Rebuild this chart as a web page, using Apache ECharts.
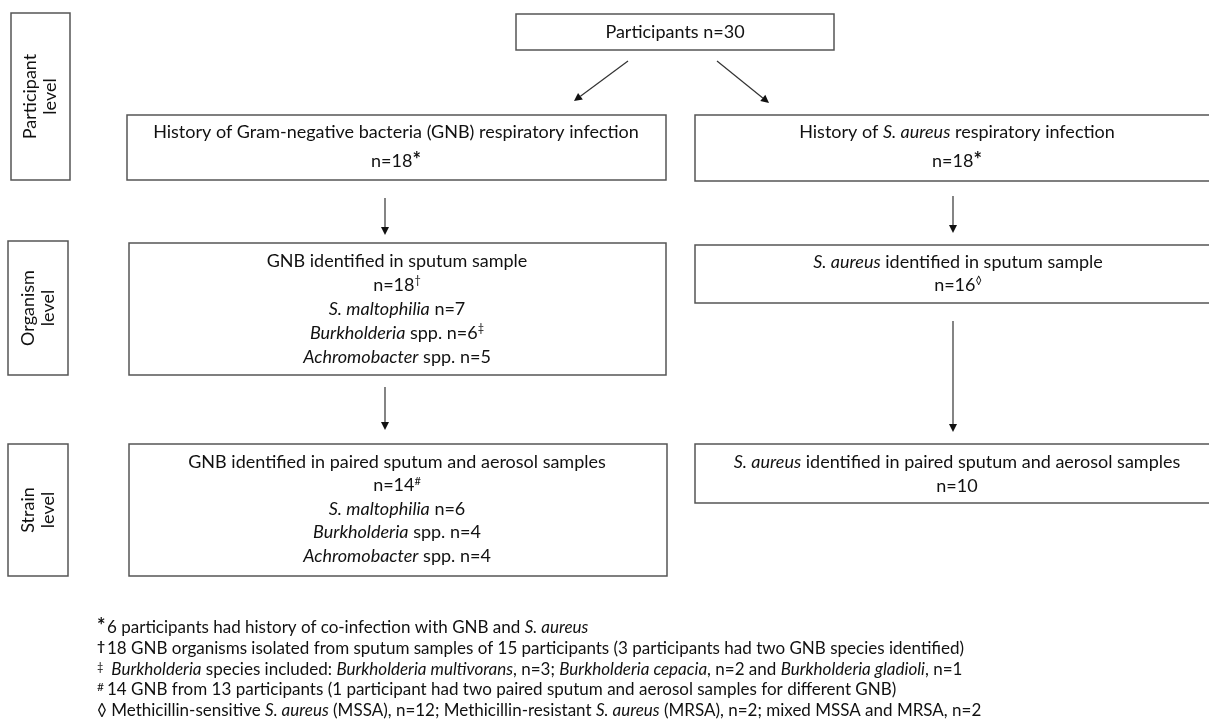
<!DOCTYPE html>
<html>
<head>
<meta charset="utf-8">
<script src="https://cdn.jsdelivr.net/npm/echarts@6/dist/echarts.min.js"></script>
<style>
  html, body { margin: 0; padding: 0; background: #fff; }
  #container { width: 1209px; height: 725px; }
</style>
</head>
<body>
<div id="container"></div>
<script>
// --- data ---
var levels = ['Participant\nlevel', 'Organism\nlevel', 'Strain\nlevel'];
var participantsN = 30;
var gnbTotals = [18, 18, 14];      // history, sputum, paired
var saTotals = [18, 16, 10];
var species = ['S. maltophilia', 'Burkholderia', 'Achromobacter'];
var speciesSuffix = ['', ' spp.', ' spp.'];
var speciesSputum = [7, 6, 5];
var speciesPaired = [6, 4, 4];
var footMarks = ['*', '\u2020', '\u2021', '#'];
var footnotes = [
  '6 participants had history of co-infection with GNB and {i|S. aureus}',
  '18 GNB organisms isolated from sputum samples of 15 participants (3 participants had two GNB species identified)',
  ' {i|Burkholderia} species included: {i|Burkholderia multivorans}, n=3; {i|Burkholderia cepacia}, n=2 and {i|Burkholderia gladioli}, n=1',
  '14 GNB from 13 participants (1 participant had two paired sputum and aerosol samples for different GNB)',
  '\u25CA Methicillin-sensitive {i|S. aureus} (MSSA), n=12; Methicillin-resistant {i|S. aureus} (MRSA), n=2; mixed MSSA and MRSA, n=2'
];

// --- text blocks built from the data ---
function speciesLines(counts, marks) {
  return species.map(function (s, i) {
    return '{i|' + s + '}' + speciesSuffix[i] + ' n=' + counts[i] + (marks[i] ? '{sup|' + marks[i] + '}' : '');
  });
}
var rootText = ['Participants n=' + participantsN];
var gnbHistory = ['History of Gram-negative bacteria (GNB) respiratory infection', 'n=' + gnbTotals[0] + '{star|*}'];
var saHistory = ['History of {i|S. aureus} respiratory infection', 'n=' + saTotals[0] + '{star|*}'];
var gnbSputum = ['GNB identified in sputum sample', 'n=' + gnbTotals[1] + '{sup|\u2020}']
  .concat(speciesLines(speciesSputum, ['', '\u2021', '']));
var saSputum = ['{i|S. aureus} identified in sputum sample', 'n=' + saTotals[1] + '{sup|\u25CA}'];
var gnbPaired = ['GNB identified in paired sputum and aerosol samples', 'n=' + gnbTotals[2] + '{sup|#}']
  .concat(speciesLines(speciesPaired, ['', '', '']));
var saPaired = ['{i|S. aureus} identified in paired sputum and aerosol samples', 'n=' + saTotals[2]];

// --- layout ---
var FONT = 'Lato, "Open Sans", sans-serif';
var INK = '#111';
var EDGE = '#555';
var BOX_FS = 18;
var FOOT_FS = 17;

function richStyles(size) {
  return {
    i: { fontStyle: 'italic', fontSize: size, fontFamily: FONT, fill: INK },
    sup: { fontSize: Math.round(size * 0.62), fontFamily: FONT, fill: INK, verticalAlign: 'top', lineHeight: size },
    star: { fontSize: size + 2, fontWeight: 'bold', fontFamily: FONT, fill: INK, verticalAlign: 'top', lineHeight: size }
  };
}

function textEl(str, x, y, size, align, extra) {
  var el = {
    type: 'text',
    x: x, y: y,
    style: {
      text: str,
      fontSize: size,
      fontFamily: FONT,
      fill: INK,
      align: align || 'center',
      verticalAlign: 'middle',
      lineHeight: size + 2,
      rich: richStyles(size)
    }
  };
  if (extra) Object.assign(el, extra);
  return el;
}

function box(x1, y1, x2, y2) {
  return {
    type: 'rect',
    shape: { x: x1, y: y1, width: x2 - x1, height: y2 - y1 },
    style: { fill: '#fff', stroke: EDGE, lineWidth: 1.5 }
  };
}

function block(lines, cx, y0, step, size) {
  return lines.map(function (l, i) { return textEl(l, cx, y0 + i * step, size); });
}

function arrow(x1, y1, x2, y2) {
  var a = Math.atan2(y2 - y1, x2 - x1);
  var len = 8, half = 4;
  var bx = x2 - len * Math.cos(a), by = y2 - len * Math.sin(a);
  var px = -Math.sin(a) * half, py = Math.cos(a) * half;
  return [
    { type: 'line', shape: { x1: x1, y1: y1, x2: bx, y2: by }, style: { stroke: '#333', lineWidth: 1.2 } },
    { type: 'polygon', shape: { points: [[x2, y2], [bx + px, by + py], [bx - px, by - py]] }, style: { fill: '#111' } }
  ];
}

var els = [];
// level tags on the left
var tagBoxes = [[11, 13, 70, 180], [8, 241, 68, 375], [8, 444, 68, 576]];
tagBoxes.forEach(function (b, i) {
  els.push(box(b[0], b[1], b[2], b[3]));
  els.push(textEl(levels[i], (b[0] + b[2]) / 2, (b[1] + b[3]) / 2, BOX_FS, 'center', { rotation: Math.PI / 2 }));
});

// flow boxes
els.push(box(516, 14, 834, 50));
els = els.concat(block(rootText, 675, 32, 24, BOX_FS));

els.push(box(127, 115, 666, 180));
els = els.concat(block(gnbHistory, 396, 132, 29, BOX_FS));
els.push(box(695, 115, 1212, 181));
els = els.concat(block(saHistory, 957, 132, 29, BOX_FS));

els.push(box(129, 243, 666, 375));
els = els.concat(block(gnbSputum, 397, 261, 24, BOX_FS));
els.push(box(695, 245, 1212, 303));
els = els.concat(block(saSputum, 958, 262, 23, BOX_FS));

els.push(box(129, 444, 667, 576));
els = els.concat(block(gnbPaired, 397, 462, 23.5, BOX_FS));
els.push(box(695, 444, 1212, 503));
els = els.concat(block(saPaired, 957, 462, 24, BOX_FS));

// arrows
els = els.concat(arrow(628, 61, 574, 101));
els = els.concat(arrow(717, 61, 769, 103));
els = els.concat(arrow(385, 198, 385, 235));
els = els.concat(arrow(953, 196, 953, 233));
els = els.concat(arrow(385, 387, 385, 430));
els = els.concat(arrow(953, 321, 953, 432));

// footnotes
var footY = [628, 649, 670, 690, 711];
var markSize = [20, 14, 11, 12];
footnotes.forEach(function (f, i) {
  if (i < footMarks.length) {
    els.push({
      type: 'text', x: 97, y: footY[i] - (i === 0 ? 1 : 3),
      style: { text: footMarks[i], fontSize: markSize[i], fontWeight: i < 2 ? 'bold' : 'normal', fontFamily: FONT, fill: INK, align: 'left', verticalAlign: 'middle' }
    });
    els.push(textEl(f, 107, footY[i], FOOT_FS, 'left'));
  } else {
    els.push(textEl(f, 97, footY[i], FOOT_FS, 'left'));
  }
});

var dom = document.getElementById('container');
var myChart = echarts.init(dom, null, { renderer: 'canvas' });
var option = {
  backgroundColor: '#fff',
  graphic: { elements: els }
};
myChart.setOption(option);
window.addEventListener('resize', myChart.resize);
</script>
</body>
</html>
